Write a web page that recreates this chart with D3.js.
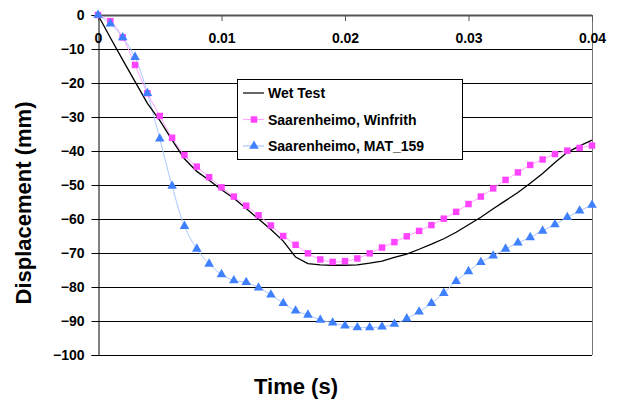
<!DOCTYPE html>
<html>
<head>
<meta charset="utf-8">
<script src="https://cdn.jsdelivr.net/npm/d3@7"></script>
<style>
  body { margin: 0; background: #fff; }
  text { font-family: "Liberation Sans", Arial, sans-serif; font-weight: bold; }
</style>
</head>
<body>
<script>
const margin = ({top: 15, right: 25, bottom: 50, left: 98});
const width = 617;
const height = 405;

// time steps, every 0.001 s
const times = d3.range(0, 41).map(function(i){ return i / 1000; });

const wetTest = [0, -6.7, -13.2, -19.6, -26, -31, -36.8, -42.3, -46, -48.6,
    -51.4, -53.9, -56.9, -60, -63.1, -66.5, -71.2, -73.1, -73.5, -73.6,
    -73.6, -73.5, -73, -72.4, -71.3, -70.3, -68.9, -67.4, -65.8, -63.9,
    -61.7, -59.5, -57, -54.6, -52.2, -49.5, -46.6, -43.4, -40.4, -38.5, -36.8];

const winfrith = [0, -1.8, -6.6, -14.7, -23, -29.7, -36.1, -41.2, -44.6, -47.7,
    -50.7, -53.4, -56.1, -58.9, -61.9, -65, -67.6, -70.1, -71.9, -72.6,
    -72.4, -71.6, -70.1, -68.4, -66.8, -65.1, -63.5, -61.8, -59.9, -57.9,
    -55.6, -53.4, -51, -48.5, -46.3, -44.1, -42.5, -40.9, -39.9, -39.1, -38.4];

const mat159 = [0, -2.6, -6.6, -12.4, -23, -36.4, -50.3, -62.1, -68.8, -73.2,
    -76.3, -78.1, -78.6, -80.2, -82.3, -84.8, -87, -88.2, -89.7, -90.5,
    -91.4, -91.9, -91.9, -91.7, -90.9, -89.3, -87.3, -84.8, -81.8, -78.3,
    -75.4, -72.7, -70.8, -68.8, -67, -65.4, -63.5, -61.6, -59.5, -57.6, -55.9];

const xTicks = [0, 0.01, 0.02, 0.03, 0.04];
const xTickLabels = ["0", "0.01", "0.02", "0.03", "0.04"];
const yTicks = [0, -10, -20, -30, -40, -50, -60, -70, -80, -90, -100];

const seriesNames = ["Wet Test", "Saarenheimo, Winfrith", "Saarenheimo, MAT_159"];

const x = d3.scaleLinear()
    .domain([0, 0.04])
    .range([margin.left, width - margin.right]);

const y = d3.scaleLinear()
    .domain([-100, 0])
    .range([height - margin.bottom, margin.top]);

const svg = d3.select("body")
    .append("svg")
    .attr("width", width)
    .attr("height", height);

// horizontal gridlines
svg.append("g")
    .selectAll("line")
    .data(yTicks)
    .join("line")
    .attr("x1", margin.left)
    .attr("x2", width - margin.right)
    .attr("y1", function(d){ return Math.round(y(d)) + 0.5; })
    .attr("y2", function(d){ return Math.round(y(d)) + 0.5; })
    .attr("stroke", function(d){ return d === 0 ? "#555" : "#000"; })
    .attr("stroke-width", function(d){ return d === 0 ? 2 : 1; });

// right border
svg.append("line")
    .attr("x1", width - margin.right + 0.5)
    .attr("x2", width - margin.right + 0.5)
    .attr("y1", y(0))
    .attr("y2", y(-100))
    .attr("stroke", "#777")
    .attr("stroke-width", 1);

// y axis
svg.append("g")
    .attr("transform", "translate(" + (margin.left + 0.5) + ",0)")
    .call(d3.axisLeft(y).tickValues(yTicks).tickSize(7).tickPadding(7).tickFormat(d3.format("d")))
    .call(function(g){
        g.select(".domain").attr("stroke", "#000");
        g.selectAll(".tick line").attr("stroke", "#000");
        g.selectAll("text").attr("font-size", 14).attr("font-family", null).attr("fill", "#000");
    });

// x axis along the zero line, labels below it
svg.append("g")
    .attr("transform", "translate(0," + y(0) + ")")
    .call(d3.axisBottom(x).tickValues(xTicks).tickSize(6).tickPadding(12)
        .tickFormat(function(d, i){ return xTickLabels[i]; }))
    .call(function(g){
        g.select(".domain").remove();
        g.selectAll(".tick line").attr("stroke", "#555");
        g.selectAll("text").attr("font-size", 14).attr("font-family", null).attr("fill", "#000");
    });

const lineWet = d3.line()
    .x(function(d, i){ return x(times[i]); })
    .y(function(d){ return y(d); });

const lineSmooth = d3.line()
    .x(function(d, i){ return x(times[i]); })
    .y(function(d){ return y(d); })
    .curve(d3.curveCatmullRom);

svg.append("path")
    .datum(winfrith)
    .attr("fill", "none")
    .attr("stroke", "#ffa6ff")
    .attr("stroke-width", 1)
    .attr("d", lineSmooth);

svg.append("path")
    .datum(mat159)
    .attr("fill", "none")
    .attr("stroke", "#a9c8ff")
    .attr("stroke-width", 1)
    .attr("d", lineSmooth);

svg.append("path")
    .datum(wetTest)
    .attr("fill", "none")
    .attr("stroke", "#000")
    .attr("stroke-width", 1.3)
    .attr("d", lineWet);

const square = d3.symbol().type(d3.symbolSquare).size(42);
const triangle = d3.symbol().type(d3.symbolTriangle).size(40);

svg.append("g")
    .selectAll("path")
    .data(winfrith)
    .join("path")
    .attr("transform", function(d, i){ return "translate(" + x(times[i]) + "," + y(d) + ")"; })
    .attr("d", square)
    .attr("fill", "#ff44ff");

svg.append("g")
    .selectAll("path")
    .data(mat159)
    .join("path")
    .attr("transform", function(d, i){ return "translate(" + x(times[i]) + "," + y(d) + ")"; })
    .attr("d", triangle)
    .attr("fill", "#3f80ff");

// axis titles
svg.append("text")
    .attr("x", 296)
    .attr("y", 394)
    .attr("text-anchor", "middle")
    .attr("font-size", 22)
    .text("Time (s)");

svg.append("text")
    .attr("transform", "translate(31,203) rotate(-90)")
    .attr("text-anchor", "middle")
    .attr("font-size", 22)
    .text("Displacement (mm)");

// legend
const legend = svg.append("g").attr("transform", "translate(237,79)");

legend.append("rect")
    .attr("x", 0.5)
    .attr("y", 0.5)
    .attr("width", 225)
    .attr("height", 80)
    .attr("fill", "#fff")
    .attr("stroke", "#000");

const legendRows = [
    {stroke: "#000", marker: null, fill: null},
    {stroke: "#ffa6ff", marker: square, fill: "#ff44ff"},
    {stroke: "#a9c8ff", marker: triangle, fill: "#3f80ff"}
];

legendRows.forEach(function(r, i){
    const cy = 14 + i * 26.5;
    legend.append("line")
        .attr("x1", 6).attr("x2", 27)
        .attr("y1", cy).attr("y2", cy)
        .attr("stroke", r.stroke)
        .attr("stroke-width", 1.2);
    if (r.marker) {
        legend.append("path")
            .attr("transform", "translate(17," + cy + ")")
            .attr("d", r.marker)
            .attr("fill", r.fill);
    }
    legend.append("text")
        .attr("x", 31)
        .attr("y", cy + 5)
        .attr("font-size", 14)
        .text(seriesNames[i]);
});
</script>
</body>
</html>
